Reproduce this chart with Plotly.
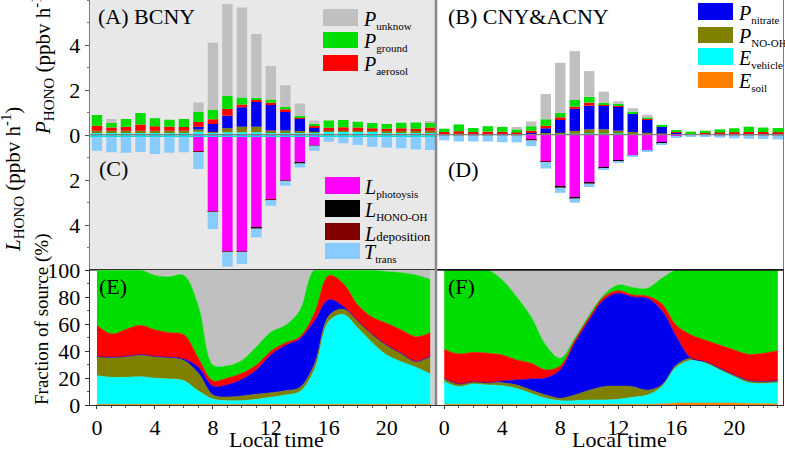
import plotly.graph_objects as go

W, H = 785, 449
def px(x): return x / W
def py(y): return 1 - y / H

hours = list(range(24))

# ---------------- Panel A (BCNY) production terms (ppbv h-1) ----------------
A_E_soil     = [.01,.01,.01,.01,.01,.01,.01,.01,.01,.01,.01,.01,.01,.01,.01,.01,.01,.01,.01,.01,.01,.01,.01,.01]
A_E_vehicle  = [.11,.11,.11,.11,.11,.11,.11,.13,.09,.11,.11,.11,.11,.11,.11,.11,.14,.13,.13,.13,.12,.12,.12,.12]
A_P_NOOH     = [.07,.07,.07,.07,.07,.07,.07,.11,.05,.18,.25,.25,.08,.08,.06,.03,.04,.05,.05,.05,.05,.05,.05,.06]
A_P_nitrate  = [0,0,0,0,0,0,0,.12,.34,.56,.86,1.10,1.13,.86,.54,.19,0,0,0,0,0,0,0,0]
A_P_aerosol  = [.22,.14,.18,.28,.20,.18,.17,.21,.21,.30,.13,.09,.10,.08,.04,.06,.13,.15,.14,.11,.10,.12,.10,.14]
A_P_ground   = [.48,.20,.34,.51,.35,.31,.35,.44,.41,.57,.31,.10,.15,.11,.08,.10,.32,.33,.26,.23,.21,.25,.28,.24]
A_P_unknow   = [0,.18,0,0,0,0,0,.42,2.99,4.09,4.00,2.83,1.49,.96,.56,.15,0,0,0,0,0,0,0,.05]
# Panel C (BCNY) loss terms (ppbv h-1, plotted downward)
A_L_photolysis = [0,0,0,0,0,0,0,.72,3.38,5.16,5.16,4.13,2.86,2.00,1.23,.45,0,0,0,0,0,0,0,0]
A_L_HONO_OH    = [0,0,0,0,0,0,0,.02,.02,.02,.02,.02,.02,.02,.02,.01,0,0,0,0,0,0,0,0]
A_L_deposition = [.01,.01,.01,.01,.01,.01,.01,.01,.01,.01,.01,.01,.01,.01,.01,.01,.01,.01,.01,.01,.01,.01,.01,.01]
A_T_trans      = [.69,.76,.78,.75,.83,.78,.76,.76,.77,.66,.54,.39,.25,.22,.18,.23,.29,.36,.43,.51,.55,.58,.63,.66]

# ---------------- Panel B (CNY&ACNY) production terms ----------------
B_E_soil     = [.01,.01,.01,.01,.01,.01,.01,.01,.01,.01,.01,.01,.01,.01,.01,.01,.01,.01,.01,.01,.01,.01,.01,.01]
B_E_vehicle  = [.04,.05,.04,.05,.04,.03,.045,.05,.04,.05,.06,.06,.06,.06,.05,.04,.05,.04,.05,.055,.05,.05,.045,.04]
B_P_NOOH     = [.01,.01,.01,.01,.01,.01,.015,.03,.05,.12,.18,.18,.12,.06,.04,.02,0,0,0,.005,.005,.005,.005,.005]
B_P_nitrate  = [0,0,0,0,.01,.01,.05,.21,.61,.98,1.05,1.05,1.07,.81,.58,.30,.05,0,0,0,0,0,0,0]
B_P_aerosol  = [.07,.10,.07,.08,.07,.05,.07,.11,.08,.10,.14,.06,.05,.03,.04,.02,.02,.03,.03,.04,.055,.075,.07,.07]
B_P_ground   = [.15,.30,.18,.24,.22,.14,.20,.29,.19,.30,.26,.07,.07,.07,.04,.06,.09,.07,.10,.14,.18,.23,.20,.185]
B_P_unknow   = [0,0,0,0,0,.11,.21,1.12,2.23,2.17,1.14,.50,.12,.15,.14,0,0,0,0,0,0,0,0,0]
# Panel D loss terms
B_L_photolysis = [0,0,0,0,0,0,.21,1.17,2.31,2.79,2.13,1.46,1.14,.90,.68,.35,.06,0,0,0,0,0,0,0]
B_L_HONO_OH    = [0,0,0,0,0,0,.01,.02,.02,.02,.02,.02,.02,.02,.02,.02,.01,0,0,0,0,0,0,0]
B_L_deposition = [.01,.01,.01,.01,.01,.01,.01,.01,.01,.01,.01,.01,.01,.01,.01,.01,.01,.01,.01,.01,.01,.01,.01,.01]
B_T_trans      = [.23,.28,.28,.28,.31,.32,.27,.29,.23,.19,.15,.05,.04,.04,.04,.03,.05,.06,.08,.11,.14,.16,.17,.19]

# ---------------- Panel E (BCNY) cumulative fraction of source (%) ----------------
E_cum_soil     = [.5,.5,.5,.5,.5,.5,.5,.5,.5,.5,.5,.5,.5,.5,.5,.5,.5,.5,.5,.5,.5,.5,.5,.5]
E_cum_vehicle  = [21.7,20.5,20.5,21,19.8,19.3,18,10.4,4.4,3.2,3.2,4.2,5.7,7.4,10,26,62,67,57,46,37,32,28,23]
E_cum_NOOH     = [35.8,35,35.8,37,35.8,35,33,23.5,7.4,6,6.7,8,9,10.6,13,30,66,71,62,52,44,38,32,36]
E_cum_nitrate  = [36,35.3,36,37.3,36,35.3,34,28,14,15,19,26,37,44,49,62,78,73,62.3,52.3,44.3,38.3,32.3,36.3]
E_cum_aerosol  = [59,52.6,56,59,55.6,53.6,52,34.6,18,20,23.5,29.6,40,46,50.6,68,96,90,74,65,60.5,55.6,50.6,53.6]
E_cum_ground   = [100,100,100,100,96,95,96,73,29.6,29,33,43,54,59,70,100,100,100,100,100,98.8,98,96.3,93]
E_cum_unknow   = [100,100,100,100,100,100,100,100,100,100,100,100,100,100,100,100,100,100,100,100,100,100,100,100]

# ---------------- Panel F (CNY&ACNY) cumulative fraction of source (%) ----------------
F_cum_soil     = [.5,.5,.5,.5,.5,.5,.5,.5,.5,.5,.5,.5,.5,.5,.5,.8,1.5,1.5,1.5,1.5,1.5,1.2,1.0,.8]
F_cum_vehicle  = [17.3,13.6,15.6,14.8,14.3,12.3,8.6,5,3.2,3.2,3.7,3.7,4.2,5.7,7.4,13.6,28,33,31,26,21,16.5,16,16.5]
F_cum_NOOH     = [19.8,15.6,17.3,16.5,16.5,14.8,11,7.4,5,7.4,11,13.6,14,13.6,11,14.8,29.6,34.6,32,27,22,18,17.3,17.8]
F_cum_nitrate  = [19.8,15.6,17.3,16.5,17.8,18.5,19.3,20,26,45.7,63,77.8,82.7,80,79,70,50.6,34.8,32.2,27.2,22.2,18.2,17.5,18]
F_cum_aerosol  = [41.2,37.8,39,38.3,37,33.3,30.9,26,29,48,65,80,84.7,81.5,80.7,75,59,52,48,44.4,40.7,37.5,38.3,40.2]
F_cum_ground   = [100,100,100,100,92.6,80,65,44.4,34.6,49.4,66.7,81.5,88.9,87,86.4,93.8,100,100,100,100,100,100,100,100]
F_cum_unknow   = [100,100,100,100,100,100,100,100,100,100,100,100,100,100,100,100,100,100,100,100,100,100,100,100]

x_ticks = [0, 4, 8, 12, 16, 20]
y_ticks_top = [-4, -2, 0, 2, 4]
y_ticklabels_top = ["4", "2", "0", "2", "4"]
y_ticks_frac = [0, 20, 40, 60, 80, 100]

C = dict(soil="#ff8000", vehicle="#00ffff", nooh="#808000", nitrate="#0000f0",
         aerosol="#ff0000", ground="#00dd00", unknow="#c0c0c0",
         photo="#ff00ff", oh="#000000", dep="#800000", trans="#88ccff")

FONT = "Liberation Serif, Times New Roman, serif"
fig = go.Figure()

def add_bars(xa, ya, pos, neg):
    for vals, col in pos:
        fig.add_trace(go.Bar(x=hours, y=vals, marker=dict(color=col, line=dict(width=0)),
                             width=0.72, xaxis=xa, yaxis=ya, showlegend=False))
    for vals, col in neg:
        fig.add_trace(go.Bar(x=hours, y=[-v for v in vals], marker=dict(color=col, line=dict(width=0)),
                             width=0.72, xaxis=xa, yaxis=ya, showlegend=False))

add_bars("x", "y",
         [(A_E_soil, C["soil"]), (A_E_vehicle, C["vehicle"]), (A_P_NOOH, C["nooh"]),
          (A_P_nitrate, C["nitrate"]), (A_P_aerosol, C["aerosol"]), (A_P_ground, C["ground"]),
          (A_P_unknow, C["unknow"])],
         [(A_L_photolysis, C["photo"]), (A_L_HONO_OH, C["oh"]), (A_L_deposition, C["dep"]),
          (A_T_trans, C["trans"])])
add_bars("x2", "y2",
         [(B_E_soil, C["soil"]), (B_E_vehicle, C["vehicle"]), (B_P_NOOH, C["nooh"]),
          (B_P_nitrate, C["nitrate"]), (B_P_aerosol, C["aerosol"]), (B_P_ground, C["ground"]),
          (B_P_unknow, C["unknow"])],
         [(B_L_photolysis, C["photo"]), (B_L_HONO_OH, C["oh"]), (B_L_deposition, C["dep"]),
          (B_T_trans, C["trans"])])

def add_areas(xa, ya, series):
    first = True
    for vals, col in series:
        fig.add_trace(go.Scatter(x=hours, y=vals, mode="lines",
                                 line=dict(width=0.6, color=col, shape="spline", smoothing=1),
                                 fill="tozeroy" if first else "tonexty", fillcolor=col,
                                 xaxis=xa, yaxis=ya, showlegend=False, hoverinfo="skip"))
        first = False

add_areas("x3", "y3", [(E_cum_soil, C["soil"]), (E_cum_vehicle, C["vehicle"]), (E_cum_NOOH, C["nooh"]),
                       (E_cum_nitrate, C["nitrate"]), (E_cum_aerosol, C["aerosol"]),
                       (E_cum_ground, C["ground"]), (E_cum_unknow, C["unknow"])])
add_areas("x4", "y4", [(F_cum_soil, C["soil"]), (F_cum_vehicle, C["vehicle"]), (F_cum_NOOH, C["nooh"]),
                       (F_cum_nitrate, C["nitrate"]), (F_cum_aerosol, C["aerosol"]),
                       (F_cum_ground, C["ground"]), (F_cum_unknow, C["unknow"])])

xl = [px(89.75), px(437.5)]
xr = [px(437), px(783)]
yt = [py(270), 1.0]
yb = [py(405), py(270)]
tickfont = dict(family=FONT, size=22, color="#000")
TOPLINE = "#7a7a7a"

fig.update_layout(
    width=W, height=H, margin=dict(l=0, r=0, t=0, b=0, pad=0, autoexpand=False), autosize=False,
    paper_bgcolor="white", plot_bgcolor="white", barmode="relative", bargap=0.28,
    font=dict(family=FONT, size=20, color="#000"),
    xaxis=dict(domain=xl, range=[-0.5, 23.5], showticklabels=False, ticks="", showgrid=False,
               zeroline=False, showline=True, linecolor=TOPLINE, linewidth=1, mirror=True, anchor="y"),
    yaxis=dict(domain=yt, range=[-6, 6], tickvals=y_ticks_top, ticktext=y_ticklabels_top,
               tickfont=tickfont, ticks="outside", ticklen=4, tickcolor="#555", showgrid=False,
               zeroline=False, showline=True, linecolor=TOPLINE, linewidth=1, mirror=True, anchor="x",
               minor=dict(dtick=1, ticks="outside", ticklen=2, tickcolor="#777")),
    xaxis2=dict(domain=xr, range=[-0.5, 23.36], showticklabels=False, ticks="", showgrid=False,
                zeroline=False, showline=True, linecolor=TOPLINE, linewidth=1, mirror=True, anchor="y2"),
    yaxis2=dict(domain=yt, range=[-6, 6], showticklabels=False, ticks="", showgrid=False,
                zeroline=False, showline=True, linecolor=TOPLINE, linewidth=1, mirror=True, anchor="x2"),
    xaxis3=dict(domain=xl, range=[-0.5, 23.5], tickvals=x_ticks, tickfont=tickfont, ticks="outside",
                ticklen=3, tickcolor="#333", showgrid=False, zeroline=False, showline=True,
                linecolor="#333", linewidth=1, mirror=True, anchor="y3",
                minor=dict(dtick=1, ticks="outside", ticklen=2, tickcolor="#555")),
    yaxis3=dict(domain=yb, range=[0, 100], tickvals=y_ticks_frac, tickfont=tickfont, ticks="outside",
                ticklen=4, tickcolor="#333", showgrid=False, zeroline=False, showline=True,
                linecolor="#333", linewidth=1, mirror=True, anchor="x3",
                minor=dict(dtick=10, ticks="outside", ticklen=2, tickcolor="#555")),
    xaxis4=dict(domain=xr, range=[-0.5, 23.36], tickvals=x_ticks, tickfont=tickfont, ticks="outside",
                ticklen=3, tickcolor="#333", showgrid=False, zeroline=False, showline=True,
                linecolor="#333", linewidth=1, mirror=True, anchor="y4",
                minor=dict(dtick=1, ticks="outside", ticklen=2, tickcolor="#555")),
    yaxis4=dict(domain=yb, range=[0, 100], showticklabels=False, ticks="", showgrid=False,
                zeroline=False, showline=True, linecolor="#333", linewidth=1, mirror=True, anchor="x4"),
)

shapes = []
# gray background of the BCNY bar panel
shapes.append(dict(type="rect", xref="paper", yref="paper", x0=xl[0], x1=xl[1], y0=yt[0], y1=1,
                   fillcolor="#e8e8e8", line=dict(width=0), layer="below"))
# light strip at the right end of panel E
shapes.append(dict(type="rect", xref="x3", yref="y3", x0=23, x1=23.5, y0=0, y1=100,
                   fillcolor="#d2d2d2", line=dict(width=0), layer="below"))
# zero lines
shapes.append(dict(type="line", xref="paper", yref="paper", x0=xl[0], x1=xr[1], y0=py(134.6), y1=py(134.6),
                   line=dict(color="#7f7f7f", width=1.2)))
shapes.append(dict(type="line", xref="paper", yref="paper", x0=xl[0], x1=xl[1], y0=py(136.3), y1=py(136.3),
                   line=dict(color="#00e0e0", width=1.5)))
# divider between left and right panels
shapes.append(dict(type="line", xref="paper", yref="paper", x0=px(436), x1=px(436), y0=py(405), y1=1,
                   line=dict(color="#888888", width=2.5)))
shapes.append(dict(type="line", xref="paper", yref="paper", x0=px(437.5), x1=xr[1], y0=py(270), y1=py(270),
                   line=dict(color="#111111", width=1.5)))

def sub(t, size=11):
    return "<sub><span style='font-size:%dpx'>%s</span></sub>" % (size, t)

annotations = []
def legend_block(x_box, x_text, rows):
    for (y0, y1, col, label) in rows:
        shapes.append(dict(type="rect", xref="paper", yref="paper", x0=px(x_box), x1=px(x_box + 35),
                           y0=py(y1), y1=py(y0), fillcolor=col, line=dict(width=0)))
        annotations.append(dict(x=px(x_text), y=py((y0 + y1) / 2 + 2), xref="paper", yref="paper",
                                text=label, showarrow=False, xanchor="left", yanchor="middle",
                                font=dict(family=FONT, size=20, color="#000")))

legend_block(323, 361, [(9, 26, C["unknow"], "<i>P</i>" + sub("unknow")),
                        (32, 48, C["ground"], "<i>P</i>" + sub("ground")),
                        (55, 71, C["aerosol"], "<i>P</i>" + sub("aerosol"))])
legend_block(698, 736, [(3, 20, C["nitrate"], "<i>P</i>" + sub("nitrate")),
                        (27, 43, C["nooh"], "<i>P</i>" + sub("NO-OH")),
                        (48, 65, C["vehicle"], "<i>E</i>" + sub("vehicle")),
                        (72, 88, C["soil"], "<i>E</i>" + sub("soil"))])
legend_block(325, 362, [(177, 194, C["photo"], "<i>L</i>" + sub("photoysis")),
                        (200, 217, C["oh"], "<i>L</i>" + sub("HONO-OH")),
                        (223, 240, C["dep"], "<i>L</i><span style='font-size:13px'>deposition</span>"),
                        (243, 259, C["trans"], "<i>T</i>" + sub("trans"))])

def label(x, y, text, size=22, anchor="left", angle=0):
    annotations.append(dict(x=px(x), y=py(y), xref="paper", yref="paper", text=text, showarrow=False,
                            xanchor=anchor, yanchor="middle", textangle=angle,
                            font=dict(family=FONT, size=size, color="#000")))

label(96, 17, "(A) BCNY")
label(446, 17, "(B) CNY&ACNY")
label(97, 168, "(C)")
label(446, 170, "(D)")
label(97, 286, "(E)")
label(446, 286, "(F)")
label(276, 439, "Local time", size=22, anchor="center")
label(619, 439, "Local time", size=22, anchor="center")
label(43, 62, "<i>P</i>" + sub("HONO", 15) + " (ppbv h<sup>-1</sup>)", size=21, anchor="center", angle=-90)
label(12, 180, "<i>L</i>" + sub("HONO", 15) + " (ppbv h<sup>-1</sup>)", size=21, anchor="center", angle=-90)
label(42, 320, "Fraction of source (%)", size=19, anchor="center", angle=-90)

fig.update_layout(shapes=shapes, annotations=annotations)
fig.write_html("out.html", config={"displayModeBar": False},
               post_script="document.body.style.margin='0px';document.body.style.padding='0px';"
                           "document.body.style.overflow='hidden';")
